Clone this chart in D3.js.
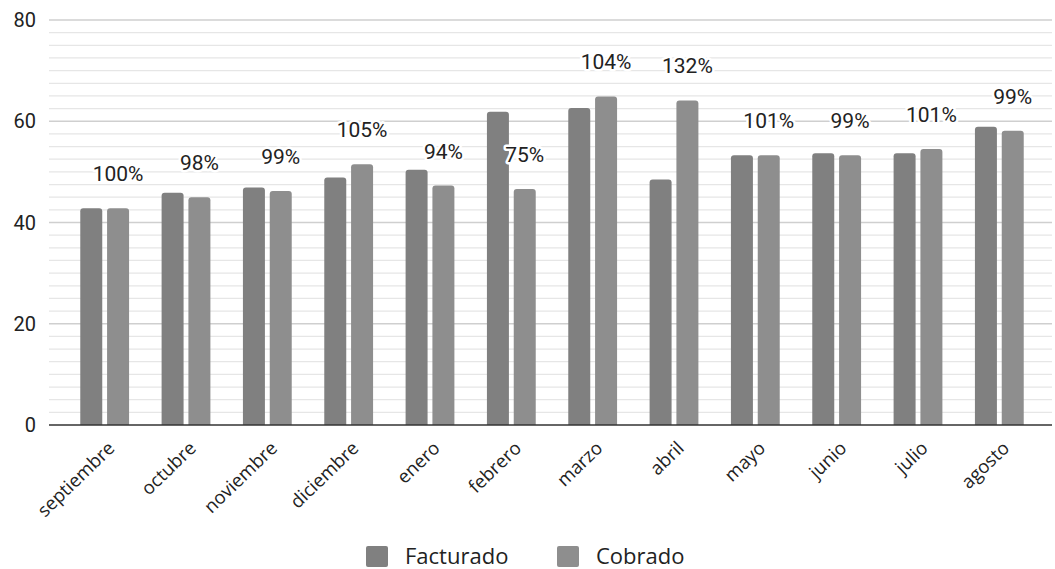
<!DOCTYPE html>
<meta charset="utf-8">
<script src="https://d3js.org/d3.v7.min.js"></script>
<style>
  body { margin: 0; background: #fff; }
</style>
<div id="chart"></div>
<script>

// data
var months = ["septiembre", "octubre", "noviembre", "diciembre", "enero", "febrero",
              "marzo", "abril", "mayo", "junio", "julio", "agosto"];
var facturado = [42.8, 45.9, 46.9, 48.9, 50.4, 61.9, 62.6, 48.5, 53.3, 53.7, 53.7, 58.9];
var cobrado   = [42.8, 45.0, 46.2, 51.5, 47.3, 46.6, 64.9, 64.1, 53.3, 53.3, 54.5, 58.1];
var ratioLabels = ["100%", "98%", "99%", "105%", "94%", "75%", "104%", "132%", "101%", "99%", "101%", "99%"];
var series = ["Facturado", "Cobrado"];
var yTicks = [0, 20, 40, 60, 80];

var width = 1055, height = 569;
var colors = {Facturado: "#808080", Cobrado: "#8e8e8e"};

var svg = d3.select("#chart")
  .append("svg")
    .attr("width", width)
    .attr("height", height);

// scales
var x0 = d3.scaleBand()
  .domain(months)
  .range([64, 1040])
  .paddingInner(0.4)
  .paddingOuter(0.2);

var x1 = d3.scaleBand()
  .domain(series)
  .range([0, x0.bandwidth()])
  .paddingInner(0.18);

var y = d3.scaleLinear()
  .domain([0, 80])
  .range([425, 20]);

var gridLeft = 49, gridRight = 1052;

// minor gridlines
svg.append("g")
  .selectAll("line")
  .data(d3.range(0, 80.01, 2.5).filter(function(v) { return v % 20 !== 0; }))
  .enter().append("line")
    .attr("x1", gridLeft).attr("x2", gridRight)
    .attr("y1", function(d) { return y(d); })
    .attr("y2", function(d) { return y(d); })
    .attr("stroke", "#e6e6e6")
    .attr("stroke-width", 1.2);

// major gridlines
svg.append("g")
  .selectAll("line")
  .data(yTicks.filter(function(v) { return v > 0; }))
  .enter().append("line")
    .attr("x1", gridLeft).attr("x2", gridRight)
    .attr("y1", function(d) { return y(d); })
    .attr("y2", function(d) { return y(d); })
    .attr("stroke", "#cfcfcf")
    .attr("stroke-width", 1.5);

// y axis labels
svg.append("g")
  .selectAll("text")
  .data(yTicks)
  .enter().append("text")
    .attr("x", 36)
    .attr("y", function(d) { return y(d); })
    .attr("dy", "0.36em")
    .attr("text-anchor", "end")
    .attr("font-family", "Roboto, sans-serif")
    .attr("font-size", 20)
    .attr("fill", "#222")
    .text(function(d) { return d; });

// rounded-top bar path
function barPath(bx, by, bw, bh, r) {
  r = Math.min(r, bh);
  return "M" + bx + "," + (by + bh) +
    "V" + (by + r) +
    "Q" + bx + "," + by + " " + (bx + r) + "," + by +
    "H" + (bx + bw - r) +
    "Q" + (bx + bw) + "," + by + " " + (bx + bw) + "," + (by + r) +
    "V" + (by + bh) + "Z";
}

var rows = months.map(function(m, i) {
  return {month: m, Facturado: facturado[i], Cobrado: cobrado[i], label: ratioLabels[i]};
});

var groups = svg.append("g")
  .selectAll("g")
  .data(rows)
  .enter().append("g")
    .attr("transform", function(d) { return "translate(" + x0(d.month) + ",0)"; });

groups.selectAll("path")
  .data(function(d) { return series.map(function(s) { return {key: s, value: d[s]}; }); })
  .enter().append("path")
    .attr("d", function(d) {
      return barPath(x1(d.key), y(d.value), x1.bandwidth(), y(0) - y(d.value), 3);
    })
    .attr("fill", function(d) { return colors[d.key]; });

// x axis line
svg.append("line")
  .attr("x1", gridLeft).attr("x2", gridRight)
  .attr("y1", y(0)).attr("y2", y(0))
  .attr("stroke", "#333")
  .attr("stroke-width", 1.6);

// ratio labels above Cobrado bars
groups.append("text")
  .attr("x", x1("Cobrado") + x1.bandwidth() / 2)
  .attr("y", function(d) { return y(d.Cobrado) - 27; })
  .attr("text-anchor", "middle")
  .attr("font-family", "Roboto, sans-serif")
  .attr("font-size", 21)
  .attr("fill", "#222")
  .attr("stroke", "#fff")
  .attr("stroke-width", 5)
  .attr("stroke-linejoin", "round")
  .attr("paint-order", "stroke")
  .text(function(d) { return d.label; });

// x labels
svg.append("g")
  .selectAll("text")
  .data(months)
  .enter().append("text")
    .attr("transform", function(d) {
      return "translate(" + (x0(d) + x0.bandwidth() / 2 + 2) + ",440) rotate(-44)";
    })
    .attr("dy", "0.71em")
    .attr("text-anchor", "end")
    .attr("font-family", "'Open Sans', sans-serif")
    .attr("font-size", 18.5)
    .attr("fill", "#222")
    .text(function(d) { return d; });

// legend
var legend = svg.append("g")
  .selectAll("g")
  .data(series)
  .enter().append("g")
    .attr("transform", function(d, i) { return "translate(" + (i === 0 ? 366 : 557) + ",546)"; });

legend.append("rect")
  .attr("width", 22).attr("height", 21).attr("rx", 2)
  .attr("fill", function(d) { return colors[d]; });

legend.append("text")
  .attr("x", 39)
  .attr("y", 18)
  .attr("font-family", "'Open Sans', sans-serif")
  .attr("font-size", 22)
  .attr("fill", "#222")
  .text(function(d) { return d; });

</script>
